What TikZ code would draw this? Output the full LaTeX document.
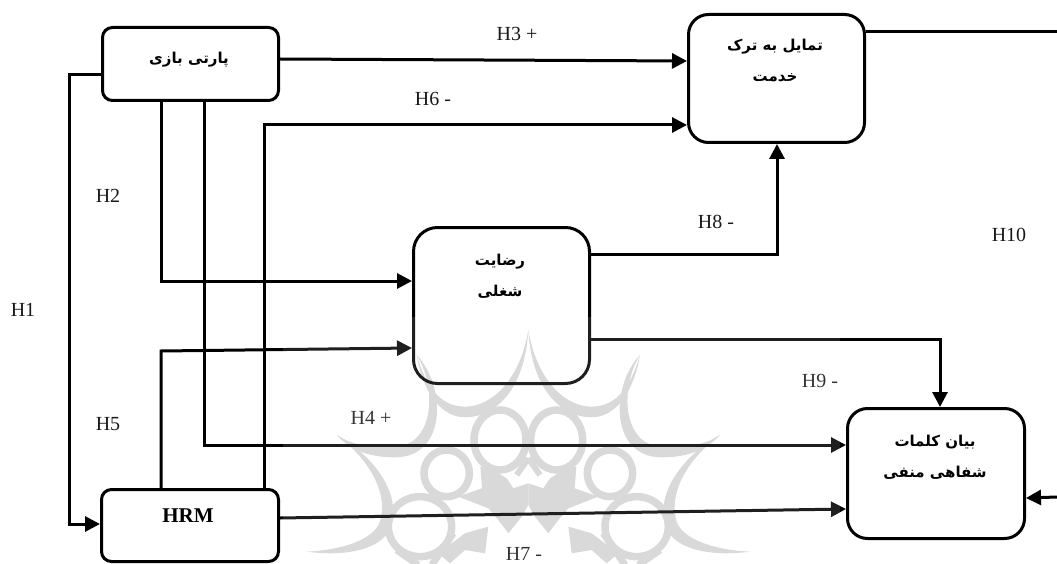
\documentclass[tikz,border=0pt]{standalone}
\usepackage{fontspec}
\usetikzlibrary{arrows.meta}
\setmainfont{Liberation Serif}
\newfontfamily\arabicfont[Script=Arabic]{DejaVu Sans}
\TeXXeTstate=1
\definecolor{wmgray}{gray}{0.83}
\newcommand{\wmhalf}{%
  \fill[wmgray] (0,30) .. controls (25,180) and (110,260) .. (190,260) .. controls (270,260) and (310,190) .. (335,105) .. controls (320,200) and (270,292) .. (190,292) .. controls (100,292) and (10,210) .. (0,30);
  \fill[wmgray] (335,105) .. controls (275,200) and (280,375) .. (400,380) .. controls (470,385) and (530,375) .. (575,345) .. controls (530,395) and (470,412) .. (400,412) .. controls (245,412) and (245,200) .. (335,105);
  \fill[wmgray] (575,345) .. controls (475,420) and (420,520) .. (445,605) .. controls (465,660) and (560,690) .. (665,695) .. controls (540,712) and (425,685) .. (410,610) .. controls (385,520) and (460,410) .. (575,345);
  \draw[wmgray,line width=7.5pt] (85,360) ellipse (78 and 90);
  \draw[wmgray,line width=7.5pt] (245,460) ellipse (68 and 70);
  \draw[wmgray,line width=7.5pt] (325,620) ellipse (95 and 90);
  \fill[wmgray] (0,490) -- (45,505) -- (65,475) -- (105,450) -- (135,440) -- (125,500) -- (210,530) -- (120,565) -- (90,600) -- (60,640) -- (20,590) -- (0,555) -- cycle;
  \draw[wmgray,line width=6pt] (0,415) -- (35,465);
  \draw[wmgray,line width=6pt] (135,440) -- (130,505);
  \fill[wmgray] (120,620) -- (190,640) -- (270,700) -- (235,730) -- (190,690) -- (130,700) -- cycle;
  \draw[wmgray,line width=7pt] (225,640) -- (290,735);
  \draw[wmgray,line width=7pt] (395,690) -- (330,735);
}
\tikzset{
  x=1pt,y=-1pt,
  box/.style={draw=black,line width=3pt,rounded corners=#1,inner sep=0pt,anchor=north west},
  box/.default=14pt,
  link/.style={draw=black,line width=3pt,-{Triangle[length=15pt,width=15pt]}},
  plain/.style={draw=black,line width=3pt},
  hyp/.style={font=\fontsize{20}{20}\selectfont,inner sep=0pt,text=black!90},
  fa/.style={font=\arabicfont\bfseries\fontsize{15}{31}\selectfont,align=center,inner sep=0pt},
}
\begin{document}
\begin{tikzpicture}
\useasboundingbox (0,0) rectangle (1057,564);
% watermark
\begin{scope}[shift={(528.33,320)},x=0.3333pt,y=-0.3333pt]
  \wmhalf
  \begin{scope}[xscale=-1]\wmhalf\end{scope}
\end{scope}
\node[box=10pt,minimum width=176pt,minimum height=73pt] (party) at (101,26) {};
\node[box=20pt,minimum width=176pt,minimum height=128pt] (quit) at (687,13) {};
\node[box=24pt,minimum width=176pt,minimum height=156pt] (sat) at (412,226) {};
\node[box=20pt,minimum width=177pt,minimum height=130pt] (wom) at (846,407) {};
\node[box=10pt,minimum width=177pt,minimum height=72pt] (hrm) at (100,488) {};
\coordinate (e1) at (1057,32);
\coordinate (e2) at (1057,497);
% connectors
\draw[link] (party.east |- 0,59) -- (quit.west |- 0,61);
\draw[link] (party.west |- 0,75) -- (69,75) -- (69,524) -- (hrm.west |- 0,524);
\draw[link] (party.south -| 161,0) -- (161,281) -- (sat.west |- 0,281);
\draw[link] (party.south -| 204,0) -- (204,445) -- (wom.west |- 0,445);
\draw[link] (hrm.north -| 264,0) -- (264,125) -- (quit.west |- 0,125);
\draw[link] (hrm.north -| 161,0) -- (161,351) -- (sat.west |- 0,348);
\draw[link] (hrm.east |- 0,518) -- (wom.west |- 0,509);
\draw[link] (sat.east |- 0,254) -- (777,254) -- (quit.south -| 777,0);
\draw[link] (sat.east |- 0,339) -- (940,339) -- (wom.north -| 940,0);
\draw[plain] (quit.east |- 0,32) -- (e1);
\draw[link] (e2) -- (wom.east |- 0,498);
% box texts
\node[fa] (tparty) at (189,60) {\beginR پارتی بازی\endR};
\node[fa] (tquit) at (775,61) {\beginR تمایل به ترک\endR\\\beginR خدمت\endR};
\node[fa] (tsat) at (500,276) {\beginR رضایت\endR\\\beginR شغلی\endR};
\node[fa] (twom) at (935,457) {\beginR بیان کلمات\endR\\\beginR شفاهی منفی\endR};
\node[font=\bfseries\fontsize{21}{21}\selectfont,inner sep=0pt] (thrm) at (188,516) {HRM};
% labels
\node[hyp] (h1) at (23,310) {H1};
\node[hyp] (h2) at (108,196) {H2};
\node[hyp] (h3) at (517,34) {H3 +};
\node[hyp] (h4) at (371,418) {H4 +};
\node[hyp] (h5) at (108,424) {H5};
\node[hyp] (h6) at (433,99) {H6 -};
\node[hyp] (h7) at (524,553.5) {H7 -};
\node[hyp] (h8) at (716,222) {H8 -};
\node[hyp] (h9) at (820,381) {H9 -};
\node[hyp] (h10) at (1009,235) {H10};
% lightening veil of the reference's watermark band
\fill[white,opacity=0.12] (283,317) rectangle (840,564);
\end{tikzpicture}
\end{document}
